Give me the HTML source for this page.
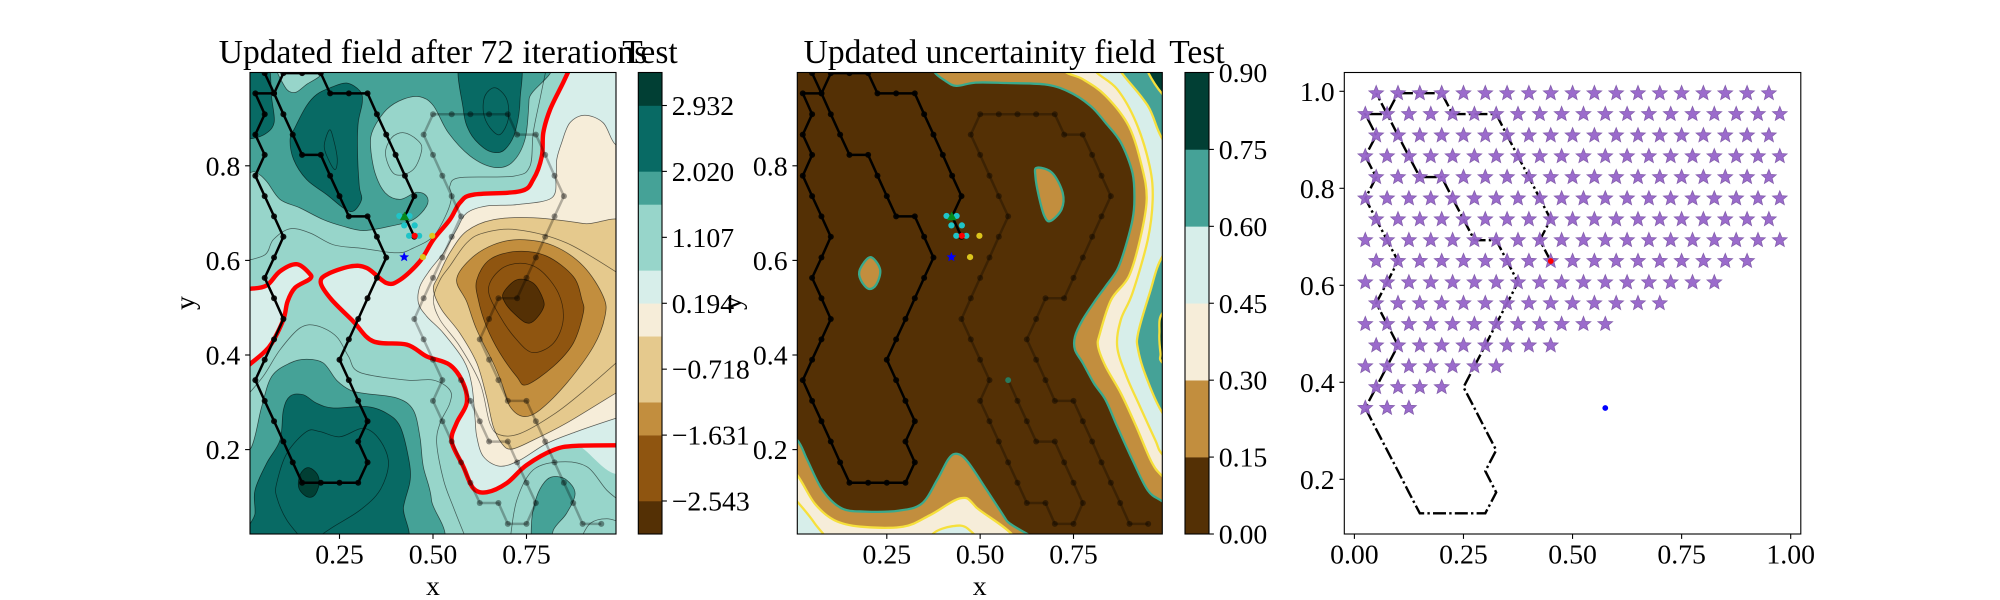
<!DOCTYPE html>
<html lang="en">
<head>
<meta charset="utf-8">
<title>Updated field panels</title>
<style>
html,body{margin:0;padding:0;background:#fff;}
svg{display:block;}
text{font-family:"Liberation Serif","Times New Roman",serif;fill:#000;}
.tick{font-size:27.78px;}
.ttl{font-size:33.55px;text-anchor:middle;}
</style>
</head>
<body>
<svg id="fig" xmlns="http://www.w3.org/2000/svg" width="2000" height="600" viewBox="0 0 2000 600">
<defs>
<clipPath id="clip1"><rect x="250" y="72.5" width="366" height="461.5"/></clipPath>
<clipPath id="clip2"><rect x="797.3" y="72.5" width="365" height="461.5"/></clipPath>
<clipPath id="clip3"><rect x="1344.3" y="72.5" width="456.5" height="461.5"/></clipPath>
</defs>
<rect x="0" y="0" width="2000" height="600" fill="#fff"/>
<g id="plot1" clip-path="url(#clip1)"></g>
<g id="plot2" clip-path="url(#clip2)"></g>
<g id="plot3" clip-path="url(#clip3)"></g>
<g id="axes"></g>
<text class="ttl" x="433" y="63">Updated field after 72 iterations</text>
<text class="ttl" x="650" y="63">Test</text>
<text class="ttl" x="979.7" y="63">Updated uncertainity field</text>
<text class="ttl" x="1197" y="63">Test</text>
<text class="tick" x="433" y="595" text-anchor="middle">x</text>
<text class="tick" x="979.7" y="595" text-anchor="middle">x</text>
<text class="tick" transform="translate(194 303) rotate(-90)" text-anchor="middle">y</text>
<text class="tick" transform="translate(741 303) rotate(-90)" text-anchor="middle">y</text>
</svg>
<script>
/* ---------- colours ---------- */
const brbg = {d0:'#013f34',d1:'#086a64',d2:'#45a297',d3:'#97d5ca',d4:'#d7eeea',b4:'#f6edd9',b3:'#e5c98d',b2:'#c28e3e',b1:'#8f5510',b0:'#543005'};

/* ---------- panel 1 contour bands (x, y in data units) ---------- */
const f1TopTeal = [[-.03,1.03],[.761,1.03],[.757,.941],[.746,.856],[.710,.806],[.661,.797],[.599,.821],[.541,.870],[.501,.927],[.465,.946],[.421,.941],[.376,.919],[.340,.877],[.333,.842],[.345,.785],[.372,.743],[.412,.729],[.456,.744],[.483,.736],[.483,.715],[.447,.686],[.385,.672],[.314,.663],[.260,.672],[.207,.686],[.144,.711],[.091,.729],[.055,.767],[.024,.787],[-.03,.799]];
const f1TopPatch = [[.086,1.02],[.104,.967],[.131,.955],[.162,.972],[.202,.993],[.211,1.02]];
const f1DarkCorner = [[-.03,1.03],[.053,1.03],[.069,.941],[.075,.891],[.051,.867],[.011,.857],[-.03,.857]];
const f1DarkBig = [[.225,.965],[.269,.975],[.305,.958],[.311,.934],[.300,.891],[.298,.835],[.303,.757],[.309,.729],[.287,.704],[.260,.711],[.216,.739],[.162,.771],[.127,.814],[.118,.856],[.131,.881],[.162,.927],[.189,.951]];
const f1DarkTop = [[.577,1.03],[.724,1.03],[.733,.941],[.719,.870],[.693,.835],[.666,.828],[.635,.838],[.599,.870],[.581,.919]];
const f1LowTeal = [[-.03,.164],[.015,.206],[.042,.291],[.069,.355],[.118,.383],[.162,.391],[.207,.383],[.242,.347],[.278,.326],[.314,.319],[.403,.309],[.447,.284],[.465,.227],[.474,.164],[.496,.093],[.492,-.013],[-.03,-.013]];
const f1LowDark = [[.100,.284],[.118,.313],[.153,.316],[.189,.298],[.234,.288],[.323,.291],[.376,.277],[.412,.249],[.434,.185],[.439,.136],[.421,.079],[.403,-.013],[.015,-.013],[.024,.065],[.024,.114],[.055,.171],[.091,.220]];
const f1LowPeak = [[.167,.162],[.189,.150],[.196,.129],[.184,.104],[.164,.100],[.144,.114],[.140,.132],[.149,.153]];
const f1Island = [[.822,.143],[.857,.136],[.880,.107],[.857,.065],[.822,.030],[.813,-.013],[.768,-.013],[.764,.051],[.777,.100],[.799,.132]];
const f1PaleMain = [[.880,1.03],[.848,.976],[.813,.919],[.795,.870],[.791,.820],[.768,.771],[.733,.746],[.608,.739],[.572,.722],[.545,.686],[.501,.644],[.465,.598],[.412,.559],[.376,.552],[.323,.584],[.278,.587],[.216,.570],[.200,.552],[.229,.517],[.287,.471],[.340,.429],[.430,.422],[.483,.397],[.545,.379],[.581,.340],[.590,.298],[.563,.256],[.550,.217],[.581,.164],[.608,.118],[.644,.110],[.697,.129],[.750,.167],[.822,.199],[.884,.208],[1.036,.209],[1.036,1.03]];
const f1PaleLeft = [[-.03,.54],[.011,.540],[.055,.547],[.091,.577],[.135,.592],[.169,.573],[.171,.561],[.131,.542],[.111,.513],[.100,.475],[.069,.425],[.046,.404],[.011,.381],[-.03,.354]];
const f1Cream = [[1.036,.842],[.988,.845],[.955,.891],[.906,.907],[.866,.891],[.844,.849],[.831,.814],[.829,.778],[.817,.732],[.724,.718],[.643,.715],[.590,.700],[.563,.665],[.528,.616],[.492,.580],[.465,.545],[.461,.510],[.483,.482],[.528,.446],[.581,.390],[.603,.340],[.612,.270],[.617,.227],[.635,.185],[.679,.165],[.733,.178],[.804,.213],[.884,.238],[.988,.266],[1.036,.277]];
const f1Tan = [[1.036,.658],[.902,.678],[.768,.690],[.661,.686],[.590,.662],[.545,.616],[.514,.566],[.501,.538],[.523,.496],[.572,.446],[.617,.383],[.643,.312],[.661,.249],[.684,.213],[.710,.201],[.768,.220],[.857,.256],[.988,.319],[1.036,.340]];
const f1Brown = [[.590,.513],[.617,.453],[.661,.383],[.684,.340],[.706,.291],[.742,.270],[.786,.284],[.857,.340],[.929,.418],[.960,.482],[.955,.524],[.902,.588],[.822,.631],[.733,.644],[.661,.633],[.599,.602],[.563,.559]];
const f1DeepBrown = [[.617,.559],[.652,.602],[.724,.619],[.804,.609],[.875,.566],[.898,.517],[.902,.489],[.875,.425],[.822,.376],[.750,.337],[.724,.354],[.679,.404],[.643,.460],[.621,.517]];
const f1Trough = [[.688,.531],[.724,.559],[.768,.552],[.795,.517],[.793,.496],[.768,.471],[.746,.469],[.715,.489],[.693,.510]];

/* ---------- panel 1 extra contour lines ---------- */
const f1RingTop = [[.666,.965],[.697,.941],[.701,.898],[.679,.866],[.652,.881],[.635,.912],[.639,.948]];
const f1RingMid = [[.223,.876],[.234,.856],[.244,.814],[.238,.792],[.220,.814],[.209,.842]];
const f1RingPale = [[.421,.870],[.456,.856],[.470,.835],[.447,.792],[.398,.782],[.373,.824],[.389,.859]];
const f1RingBrown = [[.648,.538],[.679,.580],[.733,.594],[.786,.580],[.835,.531],[.848,.474],[.822,.425],[.768,.405],[.724,.432],[.679,.482]];
const f1LineUpper = [[.804,1.01],[.786,.941],[.768,.870],[.759,.799],[.715,.778],[.572,.775],[.545,.757],[.550,.736],[.537,.700],[.501,.651],[.447,.626],[.403,.616],[.305,.626],[.234,.633],[.171,.658],[.118,.667],[.073,.644],[.051,.612],[-.007,.598]];
const f1LineTan = [[1.009,.397],[.902,.323],[.822,.274],[.733,.234],[.679,.231],[.652,.256],[.626,.340],[.572,.418],[.519,.474],[.501,.517],[.519,.559],[.545,.588],[.590,.637],[.635,.658],[.724,.665],[.857,.637],[1.009,.566]];
const f1LineLower = [[.590,.008],[.554,.079],[.528,.136],[.510,.213],[.519,.256],[.545,.298],[.545,.326],[.501,.347],[.430,.347],[.305,.363],[.274,.397],[.242,.439],[.189,.462],[.144,.457],[.091,.411],[.046,.355],[-.007,.305]];
const f1LineDark = [[.153,.008],[.109,.051],[.082,.100],[.082,.129],[.109,.192],[.162,.238],[.198,.238],[.251,.227],[.314,.245],[.358,.220],[.381,.171],[.358,.114],[.305,.072],[.234,.037],[.180,.008]];
const f1LineRight = [[.706,.008],[.724,.093],[.768,.157],[.840,.174],[.911,.164],[.965,.114],[1.009,.086]];
const f1LineCorner = [[.893,.008],[.920,.044],[.965,.054],[1.009,.044]];

/* ---------- panel 2 contour bands ---------- */
const u2TanRight = [[.365,1.03],[.377,.999],[.406,.980],[.436,.969],[.488,.976],[.570,.975],[.672,.972],[.734,.958],[.795,.927],[.836,.891],[.877,.849],[.908,.785],[.913,.729],[.908,.686],[.887,.623],[.867,.580],[.836,.545],[.810,.517],[.775,.475],[.754,.439],[.754,.411],[.775,.383],[.805,.340],[.836,.305],[.867,.249],[.908,.178],[.949,.114],[.989,.090],[1.06,.051],[1.06,1.03]];
const u2CreamRight = [[.703,1.03],[.728,.999],[.775,.983],[.836,.948],[.898,.884],[.933,.799],[.946,.729],[.928,.644],[.898,.566],[.851,.517],[.821,.446],[.816,.418],[.836,.376],[.877,.319],[.918,.249],[.959,.174],[.989,.143],[1.06,.093],[1.06,1.03]];
const u2PaleRight = [[.795,1.03],[.810,.999],[.867,.962],[.918,.891],[.954,.799],[.962,.729],[.949,.644],[.908,.531],[.877,.475],[.867,.418],[.892,.355],[.928,.291],[.969,.220],[.989,.189],[1.06,.136],[1.06,1.03]];
const u2TealTop = [[.862,1.03],[.877,.999],[.949,.927],[.989,.856],[1.06,.799],[1.06,1.03]];
const u2TealLow = [[1.06,.658],[.989,.609],[.954,.531],[.923,.446],[.923,.411],[.944,.355],[.989,.277],[1.06,.220]];
const u2DarkTop = [[.939,1.03],[.949,.999],[.989,.951],[1.06,.898],[1.06,1.03]];
const u2DarkMid = [[1.06,.517],[.989,.489],[.980,.446],[.983,.404],[.989,.383],[1.06,.340]];
const u2TanLow = [[-.045,.249],[.010,.220],[.037,.178],[.078,.114],[.129,.076],[.191,.069],[.283,.071],[.344,.086],[.385,.136],[.416,.181],[.439,.191],[.467,.174],[.518,.114],[.570,.051],[.621,-.013],[-.045,-.013]];
const u2CreamLow = [[-.045,.192],[.010,.146],[.057,.086],[.109,.051],[.180,.037],[.293,.037],[.365,.061],[.447,.097],[.488,.079],[.570,-.013],[-.045,-.013]];
const u2PaleCorner = [[-.045,.135],[.010,.090],[.057,.044],[.098,-.013],[-.045,-.013]];
const u2PaleBump = [[.354,-.013],[.375,.023],[.426,.038],[.467,.033],[.503,-.013]];
const u2BlobLeft = [[.206,.607],[.232,.581],[.222,.549],[.201,.540],[.180,.559],[.178,.581]];
const u2BlobRight = [[.652,.796],[.693,.785],[.721,.743],[.718,.708],[.688,.683],[.672,.694],[.657,.736],[.648,.778]];

/* ---------- survey paths ---------- */
const firstPath = [[.45,.65],[.425,.693],[.45,.736],[.425,.779],[.4,.823],[.375,.866],[.35,.909],[.325,.953],[.275,.953],[.225,.953],[.2,.996],[.15,.996],[.1,.996],[.075,.953],[.025,.953],[.05,.909],[.025,.866],[.05,.823],[.025,.779],[.05,.736],[.075,.693],[.1,.65],[.075,.606],[.05,.563],[.075,.52],[.1,.476],[.075,.433],[.05,.39],[.025,.347],[.05,.303],[.075,.26],[.1,.217],[.125,.173],[.15,.13],[.2,.13],[.25,.13],[.3,.13],[.325,.173],[.3,.217],[.325,.26],[.3,.303],[.275,.347],[.25,.39],[.275,.433],[.3,.476],[.325,.52],[.35,.563],[.375,.606],[.35,.65],[.325,.693],[.275,.693],[.25,.736],[.225,.779],[.2,.823],[.15,.823],[.125,.866],[.1,.909],[.075,.953],[.05,.996]];
const faintPath = [[.575,.347],[.6,.303],[.625,.26],[.65,.217],[.7,.217],[.725,.173],[.75,.13],[.775,.087],[.75,.043],[.7,.043],[.675,.087],[.625,.087],[.6,.13],[.575,.173],[.55,.217],[.525,.26],[.5,.303],[.525,.347],[.5,.39],[.475,.433],[.45,.476],[.475,.52],[.5,.563],[.525,.606],[.55,.65],[.575,.693],[.55,.736],[.525,.779],[.5,.823],[.475,.866],[.5,.909],[.55,.909],[.6,.909],[.65,.909],[.7,.909],[.725,.866],[.775,.866],[.8,.823],[.825,.779],[.85,.736],[.825,.693],[.8,.65],[.775,.606],[.75,.563],[.725,.52],[.675,.52],[.65,.476],[.625,.433],[.65,.39],[.675,.347],[.7,.303],[.75,.303],[.775,.26],[.8,.217],[.825,.173],[.85,.13],[.875,.087],[.9,.043],[.95,.043]];

/* ---------- scatter markers ---------- */
const cyanPoints = [[.410,.694],[.437,.694],[.423,.674],[.451,.674],[.436,.652],[.463,.652]];
const yellowPoints = [[.498,.652],[.473,.607]];
const redPoint = [.451,.652];
const greenPoint = [.424,.693];
const bluePoint = [.423,.607];
const tealStart = [.575,.347];

/* ---------- panel 3 candidate stars by row ---------- */
const starRowY = [.996,.953,.909,.866,.823,.779,.736,.693,.65,.606,.563,.52,.476,.433,.39,.347];
const starRowFirst = [.05,.025,.05,.025,.05,.025,.05,.025,.05,.025,.05,.025,.05,.025,.05,.025];
const starRowLast = [.95,.975,.95,.975,.95,.975,.95,.975,.90,.825,.70,.575,.45,.325,.20,.125];
const currentPoint = [.45,.65];
const nextPoint = [.575,.347];

/* ---------- ticks ---------- */
const fieldXTicks = [.25,.5,.75];
const fieldXLabels = ['0.25','0.50','0.75'];
const fieldYTicks = [.2,.4,.6,.8];
const fieldYLabels = ['0.2','0.4','0.6','0.8'];
const cb1Levels = [-3,-2.543,-1.631,-1.175,-.262,.194,.65,1.563,2.02,2.932,3.389];
const cb1Colors = [brbg.b0,brbg.b1,brbg.b2,brbg.b3,brbg.b4,brbg.d4,brbg.d3,brbg.d2,brbg.d1,brbg.d0];
const cb1Ticks = [-2.543,-1.631,-.718,.194,1.107,2.02,2.932];
const cb1Labels = ['\u22122.543','\u22121.631','\u22120.718','0.194','1.107','2.020','2.932'];
const cb2Levels = [0,.15,.3,.45,.6,.75,.9];
const cb2Colors = [brbg.b0,brbg.b2,brbg.b4,brbg.d4,brbg.d2,brbg.d0];
const cb2Ticks = [0,.15,.3,.45,.6,.75,.9];
const cb2Labels = ['0.00','0.15','0.30','0.45','0.60','0.75','0.90'];
const wpXTicks = [0,.25,.5,.75,1];
const wpXLabels = ['0.00','0.25','0.50','0.75','1.00'];
const wpYTicks = [.2,.4,.6,.8,1];
const wpYLabels = ['0.2','0.4','0.6','0.8','1.0'];

/* ---------- scales ---------- */
function linear(d0,d1,r0,r1){return function(v){return r0+(v-d0)*(r1-r0)/(d1-d0);};}
const x1 = linear(.25,.75,339.5,526.5);
const x2 = linear(.25,.75,886.8,1073.5);
const yF = linear(.2,.8,449.6,165.8);
const x3 = linear(0,1,1354.4,1790.7);
const y3 = linear(.2,1,479.3,91.3);
const cb1Y = linear(-3,3.389,534,72.5);
const cb2Y = linear(0,.9,534,72.5);

const NS = 'http://www.w3.org/2000/svg';
function make(tag,attrs,parent){
  const el = document.createElementNS(NS,tag);
  for(const k in attrs){el.setAttribute(k,attrs[k]);}
  parent.appendChild(el);
  return el;
}
function smooth(pts,fx,fy,closed){
  const P = pts.map(function(p){return [fx(p[0]),fy(p[1])];});
  const n = P.length;
  let d = 'M'+P[0][0].toFixed(1)+' '+P[0][1].toFixed(1);
  const last = closed ? n : n-1;
  for(let i=0;i<last;i++){
    const p0 = closed ? P[(i-1+n)%n] : P[Math.max(i-1,0)];
    const p1 = P[i%n];
    const p2 = P[(i+1)%n];
    const p3 = closed ? P[(i+2)%n] : P[Math.min(i+2,n-1)];
    const c1x = p1[0]+(p2[0]-p0[0])/6, c1y = p1[1]+(p2[1]-p0[1])/6;
    const c2x = p2[0]-(p3[0]-p1[0])/6, c2y = p2[1]-(p3[1]-p1[1])/6;
    d += 'C'+c1x.toFixed(1)+' '+c1y.toFixed(1)+' '+c2x.toFixed(1)+' '+c2y.toFixed(1)+' '+p2[0].toFixed(1)+' '+p2[1].toFixed(1);
  }
  return closed ? d+'Z' : d;
}
function polyline(pts,fx,fy){
  return pts.map(function(p,i){return (i?'L':'M')+fx(p[0]).toFixed(1)+' '+fy(p[1]).toFixed(1);}).join('');
}
function starPoints(cx,cy,r){
  const out = [];
  for(let i=0;i<10;i++){
    const rad = i%2 ? r*0.44 : r;
    const a = -Math.PI/2+i*Math.PI/5;
    out.push((cx+rad*Math.cos(a)).toFixed(1)+','+(cy+rad*Math.sin(a)).toFixed(1));
  }
  return out.join(' ');
}

const plot1 = document.getElementById('plot1');
const plot2 = document.getElementById('plot2');
const plot3 = document.getElementById('plot3');
const axesG = document.getElementById('axes');

/* ---------- panel 1 ---------- */
const base1 = make('rect',{x:250,y:72.5,width:366,height:461.5,fill:brbg.d3},plot1);


const bands1 = [
  [f1TopTeal,brbg.d2,1],[f1TopPatch,brbg.d3,1],[f1DarkCorner,brbg.d1,1],[f1DarkBig,brbg.d1,1],[f1DarkTop,brbg.d1,1],
  [f1LowTeal,brbg.d2,1],[f1LowDark,brbg.d1,1],[f1LowPeak,brbg.d0,1],[f1Island,brbg.d2,1],
  [f1PaleMain,brbg.d4,0],[f1PaleLeft,brbg.d4,0],[f1Cream,brbg.b4,1],[f1Tan,brbg.b3,1],[f1Brown,brbg.b2,1],[f1DeepBrown,brbg.b1,1],[f1Trough,brbg.b0,1]
];
bands1.forEach(function(b){
  const el = make('path',{d:smooth(b[0],x1,yF,true),fill:b[1],stroke:b[2]?'#000':'none','stroke-width':.75,'stroke-opacity':.6},plot1);
  
  
});
[f1RingTop,f1RingMid,f1RingPale,f1RingBrown].forEach(function(r){
  const el = make('path',{d:smooth(r,x1,yF,true),fill:'none',stroke:'#000','stroke-width':.75,'stroke-opacity':.55},plot1);
  
  
});
[f1LineUpper,f1LineTan,f1LineLower,f1LineDark,f1LineRight,f1LineCorner].forEach(function(r){
  const el = make('path',{d:smooth(r,x1,yF,false),fill:'none',stroke:'#000','stroke-width':.75,'stroke-opacity':.55},plot1);
  
  
});
[f1PaleMain.slice(0,-1),f1PaleLeft].forEach(function(r){
  const el = make('path',{d:smooth(r,x1,yF,false),fill:'none',stroke:'#f00','stroke-width':4.4},plot1);
  
  
});

function drawPath(parent,pts,fx,fy,lineOp,dotOp,label){
  const line = make('path',{d:polyline(pts,fx,fy),fill:'none',stroke:'#000','stroke-width':2.5,'stroke-opacity':lineOp,'stroke-linejoin':'round'},parent);
  
  
  pts.forEach(function(p){
    const dot = make('circle',{cx:fx(p[0]),cy:fy(p[1]),r:3,fill:'#000','fill-opacity':dotOp},parent);
    
    
  });
}
function drawMarkers(parent,fx,fy){
  cyanPoints.forEach(function(p){
    const c = make('circle',{cx:fx(p[0]),cy:fy(p[1]),r:3.1,fill:'#1fc4c8'},parent);
    
    
  });
  yellowPoints.forEach(function(p){
    const c = make('circle',{cx:fx(p[0]),cy:fy(p[1]),r:3.1,fill:'#dcc51c'},parent);
    
    
  });
  const red = make('circle',{cx:fx(redPoint[0]),cy:fy(redPoint[1]),r:3.1,fill:'#f00'},parent);
  
  
  const gx = fx(greenPoint[0]), gy = fy(greenPoint[1]);
  const tri = make('polygon',{points:(gx-4.8)+','+(gy+3.8)+' '+(gx+4.8)+','+(gy+3.8)+' '+gx+','+(gy-4.8),fill:'#078a1c'},parent);
  
  
  const star = make('polygon',{points:starPoints(fx(bluePoint[0]),fy(bluePoint[1]),5.2),fill:'#0000ff'},parent);
  
  
}
drawPath(plot1,faintPath,x1,yF,.28,.4,'faint-path');
drawPath(plot1,firstPath,x1,yF,1,.9,'first-path');
drawMarkers(plot1,x1,yF);

/* ---------- panel 2 ---------- */
const base2 = make('rect',{x:797.3,y:72.5,width:365,height:461.5,fill:brbg.b0},plot2);


const EDGE_TEAL = '#3aa98c', EDGE_YELLOW = '#f6e03c';
const bands2 = [
  [u2TanRight,brbg.b2,EDGE_TEAL],[u2CreamRight,brbg.b4,EDGE_YELLOW],[u2PaleRight,brbg.d4,EDGE_YELLOW],
  [u2TealTop,brbg.d2,EDGE_YELLOW],[u2TealLow,brbg.d2,EDGE_YELLOW],[u2DarkTop,brbg.d0,EDGE_YELLOW],[u2DarkMid,brbg.d0,EDGE_YELLOW],
  [u2TanLow,brbg.b2,EDGE_TEAL],[u2CreamLow,brbg.b4,EDGE_YELLOW],[u2PaleCorner,brbg.d4,EDGE_YELLOW],[u2PaleBump,brbg.d4,EDGE_YELLOW],
  [u2BlobLeft,brbg.b2,EDGE_TEAL],[u2BlobRight,brbg.b2,EDGE_TEAL]
];
bands2.forEach(function(b){
  const el = make('path',{d:smooth(b[0],x2,yF,true),fill:b[1],stroke:b[2],'stroke-width':2.3},plot2);
  
  
});
drawPath(plot2,faintPath,x2,yF,.28,.4,'faint-path');
drawPath(plot2,firstPath,x2,yF,1,.9,'first-path');
const startDot = make('circle',{cx:x2(tealStart[0]),cy:yF(tealStart[1]),r:3,fill:'#2a7a5c'},plot2);


drawMarkers(plot2,x2,yF);

/* ---------- panel 3 ---------- */
const wpLine = make('path',{d:polyline(firstPath,x3,y3),fill:'none',stroke:'#000','stroke-width':2.4,'stroke-dasharray':'13 3.2 2.4 3.2'},plot3);


starRowY.forEach(function(y,i){
  const n = Math.round((starRowLast[i]-starRowFirst[i])/.05);
  for(let k=0;k<=n;k++){
    const s = make('polygon',{points:starPoints(x3(starRowFirst[i]+k*.05),y3(y),7.7),fill:'#9663c9','fill-opacity':.95,stroke:'#8560ad','stroke-width':.8},plot3);
    
    
  }
});
const cur = make('circle',{cx:x3(currentPoint[0]),cy:y3(currentPoint[1]),r:2.9,fill:'#f00'},plot3);


const nxt = make('circle',{cx:x3(nextPoint[0]),cy:y3(nextPoint[1]),r:2.9,fill:'#0000ff'},plot3);



/* ---------- colourbars ---------- */
function colorbar(levels,colors,scale,x0,x1b,ticks,labels,label){
  colors.forEach(function(c,i){
    const yTop = scale(levels[i+1]), yBot = scale(levels[i]);
    const r = make('rect',{x:x0,y:yTop,width:x1b-x0,height:yBot-yTop+.3,fill:c},axesG);
    
    
  });
  const frame = make('rect',{x:x0,y:72.5,width:x1b-x0,height:461.5,fill:'none',stroke:'#000','stroke-width':1.1},axesG);
  
  
  ticks.forEach(function(v,i){
    const y = scale(v);
    const t = make('line',{x1:x1b,x2:x1b+4.9,y1:y,y2:y,stroke:'#000','stroke-width':1.1},axesG);
    
    
    const tx = make('text',{class:'tick',x:x1b+9.7,y:y+9.5},axesG);
    
    
    tx.textContent = labels[i];
  });
}
colorbar(cb1Levels,cb1Colors,cb1Y,638.3,662,cb1Ticks,cb1Labels,'field-colorbar');
colorbar(cb2Levels,cb2Colors,cb2Y,1185,1209,cb2Ticks,cb2Labels,'uncertainty-colorbar');

/* ---------- axes ---------- */
function axisFrame(left,right,fx,fy,xt,xl,yt,yl,label){
  const f = make('rect',{x:left,y:72.5,width:right-left,height:461.5,fill:'none',stroke:'#000','stroke-width':1.1},axesG);
  
  
  xt.forEach(function(v,i){
    const x = fx(v);
    const t = make('line',{x1:x,x2:x,y1:534,y2:538.9,stroke:'#000','stroke-width':1.1},axesG);
    
    
    const tx = make('text',{class:'tick',x:x,y:563.3,'text-anchor':'middle'},axesG);
    
    
    tx.textContent = xl[i];
  });
  yt.forEach(function(v,i){
    const y = fy(v);
    const t = make('line',{x1:left,x2:left-4.9,y1:y,y2:y,stroke:'#000','stroke-width':1.1},axesG);
    
    
    const tx = make('text',{class:'tick',x:left-9.7,y:y+9.5,'text-anchor':'end'},axesG);
    
    
    tx.textContent = yl[i];
  });
}
axisFrame(250,616,x1,yF,fieldXTicks,fieldXLabels,fieldYTicks,fieldYLabels,'field-axis');
axisFrame(797.3,1162.3,x2,yF,fieldXTicks,fieldXLabels,fieldYTicks,fieldYLabels,'uncertainty-axis');
axisFrame(1344.3,1800.8,x3,y3,wpXTicks,wpXLabels,wpYTicks,wpYLabels,'waypoint-axis');
</script>
</body>
</html>
